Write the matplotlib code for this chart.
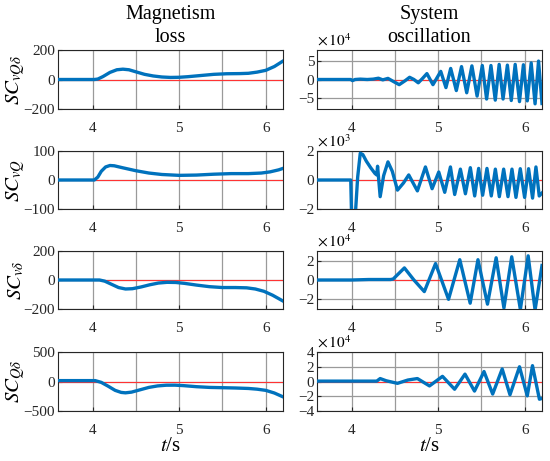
import numpy as np
import matplotlib.pyplot as plt
from matplotlib.ticker import MultipleLocator

plt.rcParams['font.family'] = 'serif'
plt.rcParams['font.serif'] = ['Liberation Serif', 'DejaVu Serif']
plt.rcParams['mathtext.fontset'] = 'stix'

# ---- data ----
# left column: magnetism loss
t_l1 = [3.6, 4.02, 4.06, 4.12, 4.2, 4.28, 4.35, 4.42, 4.5, 4.6, 4.7, 4.8, 4.9, 5.0, 5.1,
        5.25, 5.4, 5.55, 5.7, 5.8, 5.9, 6.0, 6.1, 6.2]
v_l1 = [0, 0, 3, 20, 48, 66, 70, 66, 52, 35, 24, 17, 14, 15, 19,
        27, 35, 39, 40, 42, 50, 62, 88, 125]

t_l2 = [3.6, 4.02, 4.06, 4.1, 4.15, 4.2, 4.25, 4.35, 4.5, 4.65, 4.8, 5.0, 5.2, 5.4, 5.6,
        5.8, 5.95, 6.05, 6.15, 6.2]
v_l2 = [0, 0, 10, 30, 45, 50, 49, 42, 32, 24, 19, 16, 17, 20, 22,
        22, 24, 28, 35, 40]

t_l3 = [3.6, 4.08, 4.14, 4.22, 4.3, 4.38, 4.46, 4.56, 4.66, 4.76, 4.86, 4.96, 5.06, 5.2,
        5.35, 5.5, 5.65, 5.78, 5.88, 5.98, 6.08, 6.2]
v_l3 = [0, 0, -8, -30, -52, -62, -60, -48, -33, -21, -16, -17, -23, -35,
        -46, -52, -52, -54, -62, -78, -105, -145]

t_l4 = [3.6, 4.03, 4.1, 4.18, 4.26, 4.33, 4.38, 4.45, 4.55, 4.65, 4.75, 4.85, 4.95, 5.05,
        5.2, 5.35, 5.5, 5.65, 5.8, 5.9, 6.0, 6.1, 6.2]
v_l4 = [15, 15, -15, -80, -150, -185, -192, -180, -140, -100, -75, -63, -62, -70,
        -88, -100, -105, -110, -118, -130, -150, -195, -260]

# right column: system oscillation (values in units of the axis multiplier)
t_r1 = [3.6, 3.99, 4.01, 4.04, 4.10, 4.18, 4.25, 4.31, 4.36, 4.42, 4.48, 4.55, 4.62, 4.67,
        4.72, 4.77, 4.82, 4.87, 4.94, 5.03, 5.09, 5.145, 5.21, 5.27, 5.33, 5.39, 5.45,
        5.51, 5.56, 5.61, 5.66, 5.705, 5.75, 5.80, 5.845, 5.89, 5.94, 5.985, 6.03, 6.075,
        6.12, 6.16, 6.2]
v_r1 = [0, 0, -0.3, 0, 0.1, 0, 0.1, 0.35, -0.1, 0.3, -0.5, -1.4, -0.3, 0.6,
        0.0, -0.9, 0.3, 1.6, -1.4, 2.2, -2.2, 3.0, -3.0, 3.5, -3.6, 3.7, -4.5,
        3.8, -5.3, 3.8, -5.6, 4.1, -5.3, 3.9, -5.7, 4.1, -6.0, 4.0, -5.8, 4.5,
        -6.6, 5.0, -6.5]

t_r2 = [3.6, 3.99, 4.0, 4.02, 4.045, 4.07, 4.10, 4.13, 4.17, 4.22, 4.27, 4.29, 4.30, 4.33,
        4.37, 4.42, 4.47, 4.53, 4.60, 4.66, 4.76, 4.853, 4.930, 5.007, 5.076, 5.142,
        5.191, 5.257, 5.315, 5.372, 5.422, 5.468, 5.514, 5.564, 5.614, 5.661, 5.707,
        5.757, 5.807, 5.853, 5.899, 5.949, 5.999, 6.045, 6.091, 6.130, 6.168, 6.2]
v_r2 = [0, 0, -2.6, -3.0, -2.2, 0.2, 1.85, 1.75, 1.3, 0.85, 0.45, 0.35, 0.95, -1.15,
        0.3, 1.25, 0.6, -0.7, -0.2, 0.35, -0.75, 0.9, -0.6, 0.55, -0.85, 0.9,
        -1.0, 0.75, -0.95, 0.85, -1.1, 0.8, -1.05, 0.8, -1.1, 0.75, -1.15,
        0.75, -1.15, 0.75, -1.2, 0.78, -1.2, 0.78, -1.25, 0.9, -1.1, -0.9]

t_r3 = [3.6, 4.0, 4.2, 4.45, 4.48, 4.61, 4.72, 4.84, 4.97, 5.12, 5.25, 5.37, 5.46, 5.57,
        5.67, 5.76, 5.85, 5.95, 6.04, 6.12, 6.2]
v_r3 = [0, 0, 0.05, 0.05, 0.1, 1.25, 0.0, -1.2, 1.7, -2.0, 2.1, -2.4, 2.1, -2.5,
        2.3, -2.9, 2.4, -3.05, 2.5, -3.1, 1.5]

t_r4 = [3.6, 4.29, 4.33, 4.40, 4.53, 4.65, 4.76, 4.90, 5.05, 5.19, 5.31, 5.42, 5.53, 5.63,
        5.74, 5.83, 5.94, 6.03, 6.09, 6.17, 6.2]
v_r4 = [0.05, 0.05, 0.4, 0.1, -0.25, 0.2, 0.4, -0.6, 0.7, -1.05, 1.0, -1.3, 1.35, -1.7,
        1.7, -1.8, 2.0, -1.95, 2.15, -2.4, -2.3]

left_labels = [r'$SC_{vQ\delta}$', r'$SC_{vQ}$', r'$SC_{v\delta}$', r'$SC_{Q\delta}$']
left_ylims = [200, 100, 200, 500]
right_ylims = [8, 2, 3, 4]
right_yticks = [[-5, 0, 5], [-2, 0, 2], [-2, 0, 2], [-4, -2, 0, 2, 4]]
right_mult = [r'$\times\,10^{4}$', r'$\times\,10^{3}$', r'$\times\,10^{4}$', r'$\times\,10^{4}$']

left_data = [(t_l1, v_l1), (t_l2, v_l2), (t_l3, v_l3), (t_l4, v_l4)]
right_data = [(t_r1, v_r1), (t_r2, v_r2), (t_r3, v_r3), (t_r4, v_r4)]

# ---- layout (pixels of a 550x461 figure) ----
W, H = 550, 461
row_top = [50, 151, 251, 352]
row_h = [59, 58, 58, 59]
col_x = [58, 317]
col_w = 225
blue = '#0072BD'


def style(ax, ylim, yticks):
    ax.axhline(0, color='#ff3333', lw=0.8, zorder=2)
    ax.set_xlim(3.6, 6.2)
    ax.set_ylim(-ylim, ylim)
    ax.set_yticks(yticks)
    ax.xaxis.set_major_locator(MultipleLocator(1))
    ax.xaxis.set_minor_locator(MultipleLocator(0.5))
    ax.grid(True, which='both', axis='x', color='#9a9a9a', lw=0.9)
    ax.grid(True, which='major', axis='y', color='#9a9a9a', lw=0.9)
    ax.set_axisbelow(True)
    ax.tick_params(direction='in', length=3, labelsize=11, colors='#262626')
    ax.tick_params(axis='x', pad=9)
    ax.tick_params(axis='y', pad=2)
    ax.tick_params(which='minor', length=0)
    for s in ax.spines.values():
        s.set_color('#262626')
        s.set_linewidth(0.8)


fig = plt.figure(figsize=(W / 100, H / 100), dpi=100)

for i in range(4):
    b = 1 - (row_top[i] + row_h[i]) / H
    h = row_h[i] / H

    axl = fig.add_axes([col_x[0] / W, b, col_w / W, h])
    t, v = left_data[i]
    axl.plot(t, v, color=blue, lw=2.4, zorder=3, solid_joinstyle='round')
    style(axl, left_ylims[i], [-left_ylims[i], 0, left_ylims[i]])
    fig.text(16 / W, b + h / 2, left_labels[i], rotation=90, ha='center', va='center', fontsize=15)

    axr = fig.add_axes([col_x[1] / W, b, col_w / W, h])
    t, v = right_data[i]
    axr.plot(t, v, color=blue, lw=2.4, zorder=3, solid_joinstyle='round')
    style(axr, right_ylims[i], right_yticks[i])
    axr.text(0.0, 1.02, right_mult[i], transform=axr.transAxes, ha='left', va='bottom', fontsize=11)

# column titles and axis labels
for cx, title in zip([col_x[0] + col_w / 2, col_x[1] + col_w / 2],
                     ['Magnetism\nloss', 'System\noscillation']):
    fig.text(cx / W, 1 - 47 / H, title, ha='center', va='bottom', fontsize=14.5, linespacing=1.3)
    fig.text(cx / W, 1 - 451 / H, r'$t$/s', ha='center', va='baseline', fontsize=15)

fig.savefig('out.png', dpi=100)
